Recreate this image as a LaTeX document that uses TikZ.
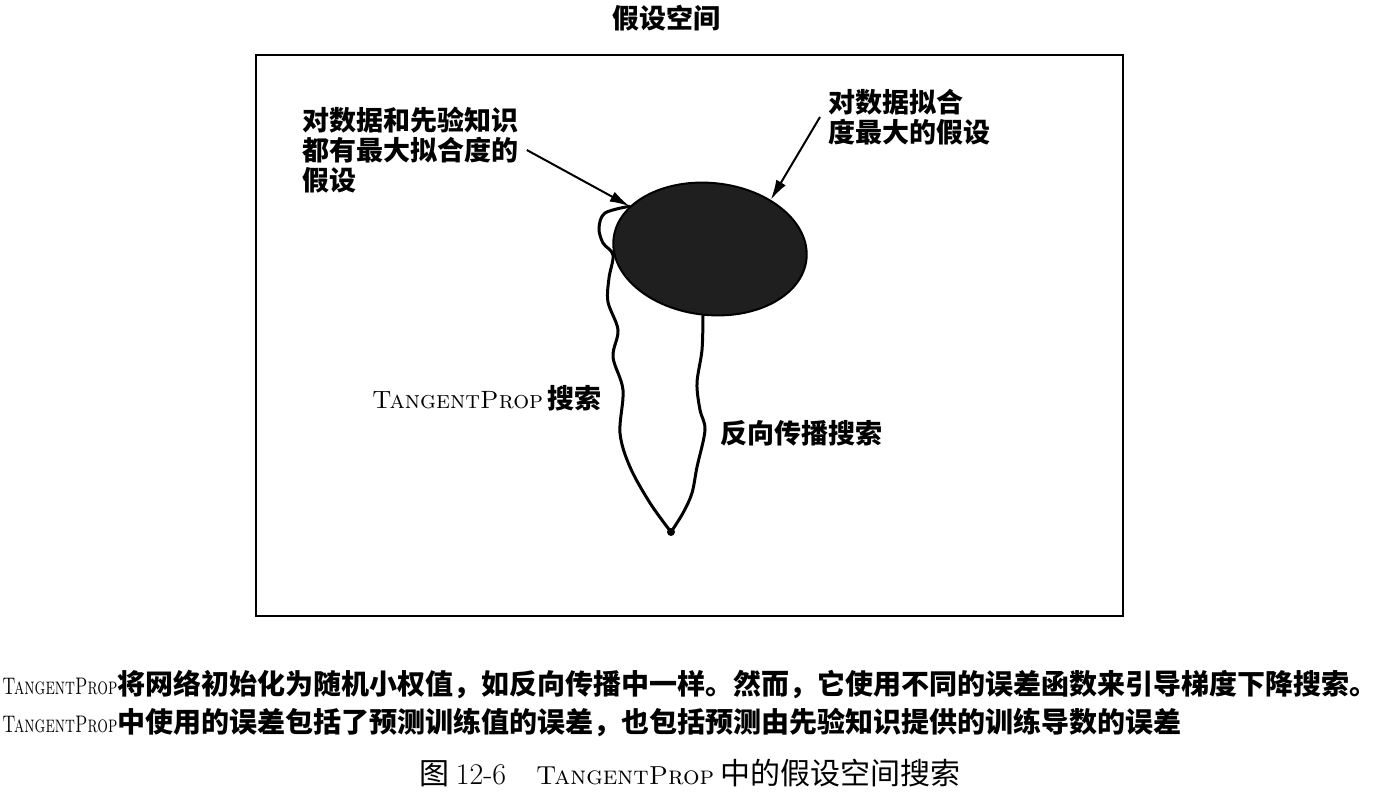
\documentclass[tikz,border=0pt]{standalone}
\usepackage{graphicx}
\usepackage{fontspec}
\newfontfamily\cjk{Noto Sans CJK SC}
\usetikzlibrary{arrows.meta,shapes.geometric}
\newcommand{\tprop}[1][10]{{\rmfamily\mdseries\fontsize{#1}{#1}\selectfont\textsc{TangentProp}}}

\begin{document}
\begin{tikzpicture}[x=0.5pt,y=-0.5pt,
	lbl/.style={font=\cjk\bfseries\fontsize{13.5}{15}\selectfont, inner sep=4pt},
	pointer/.style={-{Latex[length=10pt,width=5.5pt]}, line width=1pt},
	search/.style={line width=1.5pt, line join=round, line cap=round},
	notes/.style={font=\cjk\bfseries\fontsize{14}{16}\selectfont, anchor=west, inner sep=0pt}]
	\useasboundingbox (0,0) rectangle (1378,809);
	\draw[line width=1.2pt] (256,55) rectangle (1123,616);
	\node[lbl] (title) at (666,18) {假设空间};
	\node[lbl, align=left, anchor=west] (both) at (294,150) {对数据和先验知识\\都有最大拟合度的\\假设};
	\node[lbl, align=left, anchor=west] (data) at (820,117) {对数据拟合\\度最大的假设};
	\node[lbl, anchor=east] (tplbl) at (610,398) {\tprop[12.5]\,搜索};
	\node[lbl, anchor=west] (bplbl) at (712,433) {反向传播搜索};
	\node[ellipse, draw, fill=black!88, line width=1pt, minimum width=97pt, minimum height=66pt, inner sep=0pt, rotate=-6] (best) at (710,249) {};
	\node[circle, fill, inner sep=0pt, minimum size=4pt] (init) at (671,532) {};
	\draw[search] plot[smooth, tension=0.55] coordinates {(init) (650,503) (630,467) (620,433) (623,390) (613,357) (618,330) (608,302) (609,278) (613,255) (603,243) (599,228) (605,213) (best.158)};
	\draw[search] plot[smooth, tension=0.55] coordinates {(init) (683,513) (692,493) (697,467) (705,430) (700,410) (697,383) (702,350) (best.south)};
	\draw[pointer] (both.east) -- (best.158);
	\draw[pointer] (data.west) -- (best.45);
	\node[notes] (note1) at (2,684) {\scalebox{0.7}[1]{\tprop[12]}将网络初始化为随机小权值，如反向传播中一样。然而，它使用不同的误差函数来引导梯度下降搜索。};
	\node[notes] (note2) at (2,722) {\scalebox{0.7}[1]{\tprop[12]}中使用的误差包括了预测训练值的误差，也包括预测由先验知识提供的训练导数的误差};
	\node[font=\cjk\fontsize{15}{17}\selectfont] (caption) at (690,773) {图 {\rmfamily 12-6}\quad\tprop[13] 中的假设空间搜索};
\end{tikzpicture}
\end{document}
